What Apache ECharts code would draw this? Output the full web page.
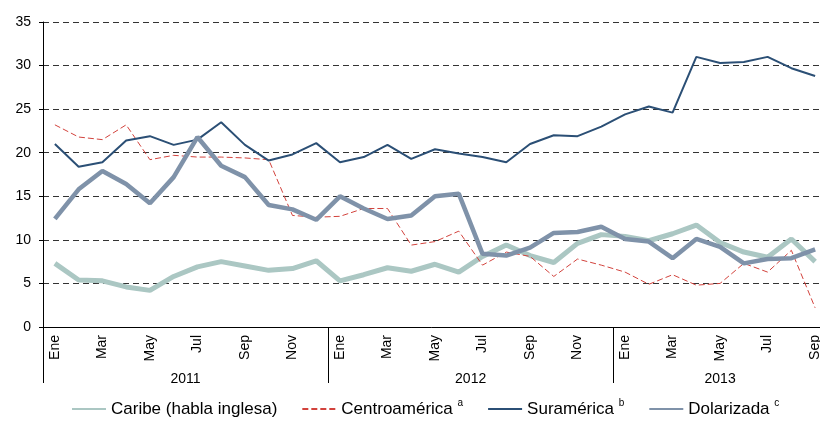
<!DOCTYPE html>
<html>
<head>
<meta charset="utf-8">
<script src="https://cdn.jsdelivr.net/npm/echarts@6/dist/echarts.min.js"></script>
<style>
  html, body { margin: 0; padding: 0; background: #fff; }
  #chart { width: 820px; height: 421px; }
</style>
</head>
<body>
<div id="chart"></div>
<script>
// months Jan 2011 - Sep 2013
var months = ['Ene','Feb','Mar','Abr','May','Jun','Jul','Ago','Sep','Oct','Nov','Dic',
              'Ene','Feb','Mar','Abr','May','Jun','Jul','Ago','Sep','Oct','Nov','Dic',
              'Ene','Feb','Mar','Abr','May','Jun','Jul','Ago','Sep'];
var years = ['2011', '2012', '2013'];
var yearStarts = [0, 12, 24];
var yearMids = [6, 18, 28.5];

var caribe = [7.3,5.4,5.3,4.6,4.2,5.8,6.9,7.5, 7.0,6.5,6.7,7.6, 5.3,6.0,6.8,6.4,
              7.2,6.3,8.1,9.4, 8.2,7.4,9.6,10.6, 10.4,9.9,10.7,11.7, 9.7,8.6,8.0,10.1,7.5];
var centro = [23.2,21.8,21.5,23.2,19.2,19.7,19.5,19.5, 19.4,19.2,12.8,12.6, 12.7,13.6,13.6,9.4,
              9.8,11.0,7.1,8.6, 8.1,5.8,7.8,7.1, 6.3,4.9,6.0,4.8, 5.0,7.3,6.3,8.8,2.2];
var sura = [21.0,18.4,18.9,21.4,21.9,20.9,21.5,23.5, 20.9,19.1,19.8,21.1, 18.9,19.5,20.9,19.3,
            20.4,19.9,19.5,18.9, 21.0,22.0,21.9,23.0, 24.4,25.3,24.6,31.0, 30.3,30.4,31.0,29.7,28.8];
var dolar = [12.4,15.8,17.9,16.4,14.2,17.2,21.8,18.5, 17.2,14.0,13.5,12.3, 15.0,13.6,12.4,12.8,
             15.0,15.3,8.4,8.2, 9.1,10.8,10.9,11.5, 10.1,9.8,7.9,10.1, 9.2,7.3,7.8,7.9,8.9];

var font = 'Liberation Sans, Arial, sans-serif';
var supers = { 'Centroamérica': 'a', 'Suramérica': 'b', 'Dolarizada': 'c' };

var myChart = echarts.init(document.getElementById('chart'));

var option = {
    animation: false,
    textStyle: { fontFamily: font },
    grid: { left: 43, top: 22, width: 784, height: 305, outerBoundsMode: 'none', containLabel: false },
    legend: {
        left: 66,
        top: 393,
        itemWidth: 34,
        itemHeight: 14,
        itemGap: 24,
        itemStyle: { opacity: 0 },
        textStyle: {
            fontSize: 17,
            color: '#000',
            fontFamily: font,
            rich: {
                n: { fontSize: 17, color: '#000', fontFamily: font },
                s: { fontSize: 10, color: '#000', fontFamily: font, padding: [0, 0, 12, 0] }
            }
        },
        formatter: function (name) {
            var sup = supers[name];
            return sup ? '{n|' + name + '} {s|' + sup + '}' : name;
        },
        data: ['Caribe (habla inglesa)', 'Centroamérica', 'Suramérica', 'Dolarizada']
    },
    xAxis: [{
        type: 'category',
        data: months,
        boundaryGap: true,
        axisLine: { lineStyle: { color: '#000', width: 1 } },
        axisTick: { length: 6, lineStyle: { color: '#000' } },
        axisLabel: { rotate: 90, interval: 1, margin: 8, fontSize: 14, color: '#000' }
    }, {
        type: 'value',
        position: 'bottom',
        min: 0,
        max: 33,
        axisLine: { show: false },
        splitLine: { show: false },
        axisTick: { show: true, length: 56, customValues: yearStarts, lineStyle: { color: '#000' } },
        axisLabel: {
            customValues: yearMids,
            margin: 45,
            fontSize: 14,
            color: '#000',
            formatter: function (v) { return years[yearMids.indexOf(v)]; }
        }
    }],
    yAxis: {
        type: 'value',
        min: 0,
        max: 35,
        interval: 5,
        axisLine: { show: true, lineStyle: { color: '#000' } },
        axisTick: { show: true, length: 4, lineStyle: { color: '#000' } },
        axisLabel: { fontSize: 14, color: '#000', margin: 12 },
        splitLine: { lineStyle: { color: '#333', type: [6, 4], width: 1 } }
    },
    series: [{
        name: 'Caribe (habla inglesa)',
        type: 'line',
        data: caribe,
        symbol: 'none',
        color: '#abc7c3',
        lineStyle: { width: 5, color: '#abc7c3' }
    }, {
        name: 'Centroamérica',
        type: 'line',
        data: centro,
        symbol: 'none',
        color: '#d2423c',
        lineStyle: { width: 1, color: '#d2423c', type: [6, 3] }
    }, {
        name: 'Suramérica',
        type: 'line',
        data: sura,
        symbol: 'none',
        color: '#2b4f75',
        lineStyle: { width: 2, color: '#2b4f75' }
    }, {
        name: 'Dolarizada',
        type: 'line',
        data: dolar,
        symbol: 'none',
        color: '#7f92a9',
        lineStyle: { width: 4.5, color: '#7f92a9' }
    }]
};

myChart.setOption(option);
</script>
</body>
</html>
